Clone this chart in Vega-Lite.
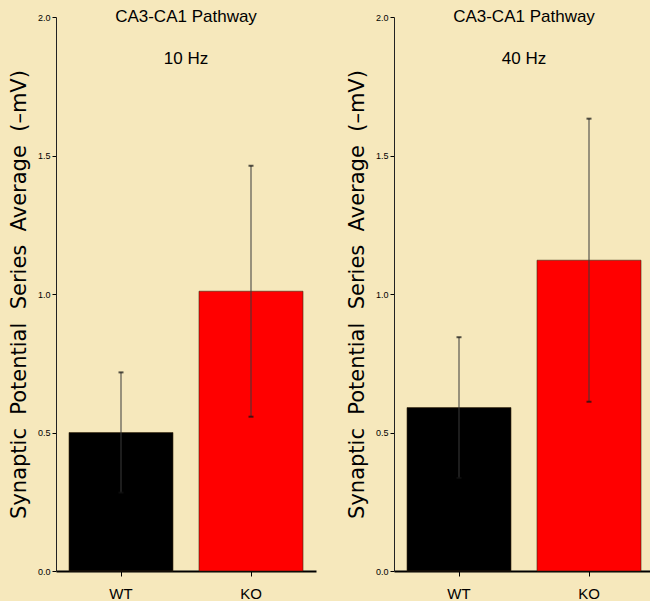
{
  "$schema": "https://vega.github.io/schema/vega-lite/v6.json",
  "background": "#f6e8bc",
  "padding": {"left": 8, "top": 8, "right": 0, "bottom": 0},
  "datasets": {
    "bars": [
      {"freq": "10 Hz", "group": "WT", "mean": 0.50, "lo": 0.283, "hi": 0.717},
      {"freq": "10 Hz", "group": "KO", "mean": 1.01, "lo": 0.557, "hi": 1.463},
      {"freq": "40 Hz", "group": "WT", "mean": 0.59, "lo": 0.336, "hi": 0.844},
      {"freq": "40 Hz", "group": "KO", "mean": 1.122, "lo": 0.611, "hi": 1.633}
    ]
  },
  "config": {
    "view": {"stroke": null},
    "title": {"font": "Liberation Sans", "fontSize": 17, "fontWeight": "normal", "color": "#000", "lineHeight": 42, "baseline": "top", "offset": -55, "anchor": "middle", "frame": "group"},
    "axisY": {"labelFont": "Liberation Sans", "labelFontSize": 9, "labelColor": "#000", "tickSize": 4, "tickColor": "#000", "domainColor": "#222", "domainWidth": 1, "labelPadding": 2, "grid": false, "titleFont": "DejaVu Sans", "titleFontSize": 21, "titleFontWeight": "normal", "titleColor": "#000", "titlePadding": 8},
    "axisX": {"labelFont": "Liberation Sans", "labelFontSize": 15, "labelColor": "#000", "tickSize": 5, "tickColor": "#000", "domainColor": "#000", "domainWidth": 2, "labelPadding": 10, "labelAngle": 0, "title": null, "grid": false}
  },
  "spacing": 30,
  "hconcat": [
    {
      "width": 260, "height": 554,
      "title": {"text": ["CA3-CA1 Pathway", "10 Hz"]},
      "data": {"name": "bars"},
      "transform": [{"filter": "datum.freq == '10 Hz'"}],
      "encoding": {"x": {"field": "group", "type": "nominal", "sort": ["WT", "KO"], "scale": {"paddingInner": 0.2, "paddingOuter": 0.1}}},
      "layer": [
        {"mark": {"type": "bar", "stroke": "#3a2a10", "strokeWidth": 0.6},
         "encoding": {"y": {"field": "mean", "type": "quantitative", "scale": {"domain": [0, 2]}, "title": "Synaptic\u00a0 Potential\u00a0 Series\u00a0 Average\u00a0 (–mV)", "axis": {"values": [0, 0.5, 1, 1.5, 2], "format": ".1f"}},
                      "color": {"field": "group", "type": "nominal", "scale": {"domain": ["WT", "KO"], "range": ["#000000", "#ff0000"]}, "legend": null}}},
        {"mark": {"type": "rule", "color": "#3a3a3a", "strokeWidth": 1},
         "encoding": {"y": {"field": "lo", "type": "quantitative", "title": "Synaptic\u00a0 Potential\u00a0 Series\u00a0 Average\u00a0 (–mV)"}, "y2": {"field": "hi"}}},
        {"mark": {"type": "tick", "color": "#111", "thickness": 2, "size": 5, "orient": "horizontal"},
         "encoding": {"y": {"field": "hi", "type": "quantitative", "title": "Synaptic\u00a0 Potential\u00a0 Series\u00a0 Average\u00a0 (–mV)"}}},
        {"mark": {"type": "tick", "color": "#111", "thickness": 2, "size": 5, "orient": "horizontal"},
         "encoding": {"y": {"field": "lo", "type": "quantitative", "title": "Synaptic\u00a0 Potential\u00a0 Series\u00a0 Average\u00a0 (–mV)"}}}
      ]
    },
    {
      "width": 260, "height": 554,
      "title": {"text": ["CA3-CA1 Pathway", "40 Hz"]},
      "data": {"name": "bars"},
      "transform": [{"filter": "datum.freq == '40 Hz'"}],
      "encoding": {"x": {"field": "group", "type": "nominal", "sort": ["WT", "KO"], "scale": {"paddingInner": 0.2, "paddingOuter": 0.1}}},
      "layer": [
        {"mark": {"type": "bar", "stroke": "#3a2a10", "strokeWidth": 0.6},
         "encoding": {"y": {"field": "mean", "type": "quantitative", "scale": {"domain": [0, 2]}, "title": "Synaptic\u00a0 Potential\u00a0 Series\u00a0 Average\u00a0 (–mV)", "axis": {"values": [0, 0.5, 1, 1.5, 2], "format": ".1f"}},
                      "color": {"field": "group", "type": "nominal", "scale": {"domain": ["WT", "KO"], "range": ["#000000", "#ff0000"]}, "legend": null}}},
        {"mark": {"type": "rule", "color": "#3a3a3a", "strokeWidth": 1},
         "encoding": {"y": {"field": "lo", "type": "quantitative", "title": "Synaptic\u00a0 Potential\u00a0 Series\u00a0 Average\u00a0 (–mV)"}, "y2": {"field": "hi"}}},
        {"mark": {"type": "tick", "color": "#111", "thickness": 2, "size": 5, "orient": "horizontal"},
         "encoding": {"y": {"field": "hi", "type": "quantitative", "title": "Synaptic\u00a0 Potential\u00a0 Series\u00a0 Average\u00a0 (–mV)"}}},
        {"mark": {"type": "tick", "color": "#111", "thickness": 2, "size": 5, "orient": "horizontal"},
         "encoding": {"y": {"field": "lo", "type": "quantitative", "title": "Synaptic\u00a0 Potential\u00a0 Series\u00a0 Average\u00a0 (–mV)"}}}
      ]
    }
  ]
}
